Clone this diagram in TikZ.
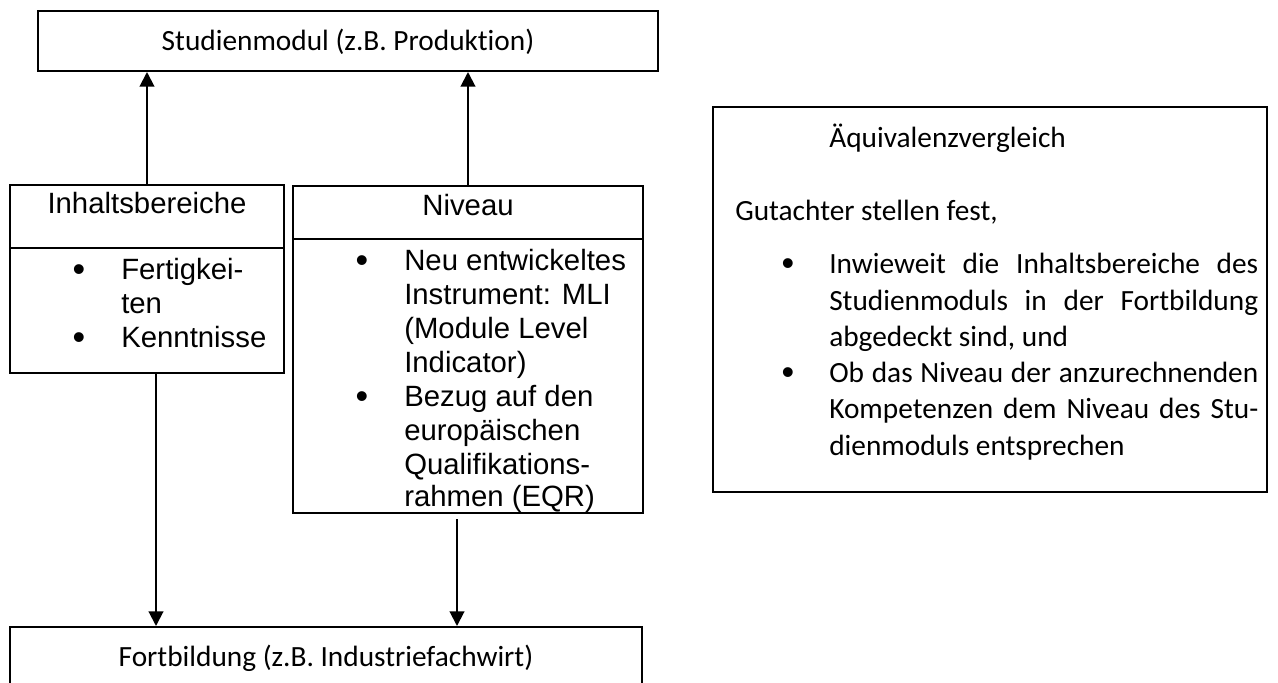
\documentclass[tikz,border=0pt]{standalone}
\usepackage{fontspec}
\setmainfont{Carlito}[Ligatures=CommonOff]
\newfontfamily\arialf{Liberation Sans}[Ligatures=CommonOff]
\usetikzlibrary{arrows.meta,fit}
\begin{document}
\begin{tikzpicture}[x=0.75pt,y=-0.75pt,
  box/.style={draw=black, line width=1.5pt, inner sep=0pt, rectangle},
  arr/.style={line width=1.5pt, -{Triangle[width=11pt,length=11pt]}},
  cal/.style={font=\fontsize{22}{27.5}\selectfont, inner sep=0pt},
  ari/.style={font=\arialf\fontsize{22}{25.5}\selectfont, inner sep=0pt},
  blt/.style={font=\arialf\fontsize{27}{27}\selectfont, inner sep=0pt, anchor=base, yshift=-1.5pt},
]
\clip (0,0) rectangle (1278,682);
\fill[white] (0,0) rectangle (1278,682);

% top box
\node[box, fit={(38,11) (658,71)}] (S) {};
\node[cal, anchor=base] (St) at (348,50) {Studienmodul (z.B. Produktion)};

% Inhaltsbereiche
\node[box, fit={(10,185) (284,373)}] (I) {};
\draw[line width=1.5pt] (10,248) -- (284,248);
\node[ari, anchor=base] (It) at (147,213) {Inhaltsbereiche};
\node[blt] (Ib1) at (79,279) {•};
\node[blt] (Ib2) at (79,347) {•};
\node[ari, anchor=base west] (I1) at (121,279) {Fertigkei-};
\node[ari, anchor=base west] (I2) at (121,313) {ten};
\node[ari, anchor=base west] (I3) at (121,347) {Kenntnisse};

% Niveau
\node[box, fit={(293,186) (643,513)}] (N) {};
\draw[line width=1.5pt] (293,239) -- (643,239);
\node[ari, anchor=base] (Nt) at (468,215) {Niveau};
\node[blt] (Nb1) at (362,270) {•};
\node[blt] (Nb2) at (362,406) {•};
\node[ari, anchor=base west] (N1) at (404,270) {Neu entwickeltes};
\node[ari, anchor=base west] (N2) at (404,304) {Instrument: MLI};
\node[ari, anchor=base west] (N3) at (404,338) {(Module Level};
\node[ari, anchor=base west] (N4) at (404,372) {Indicator)};
\node[ari, anchor=base west] (N5) at (404,406) {Bezug auf den};
\node[ari, anchor=base west] (N6) at (404,440) {europäischen};
\node[ari, anchor=base west] (N7) at (404,474) {Qualifikations-};
\node[ari, anchor=base west] (N8) at (404,506) {rahmen (EQR)};

% bottom box
\node[box, fit={(10,627) (642,720)}] (F) {};
\node[cal, anchor=base] (Ft) at (326,666) {Fortbildung (z.B. Industriefachwirt)};

% right box
\node[box, fit={(713,107) (1267,492)}] (R) {};
\node[cal, anchor=base west] (Rt) at (829,147) {Äquivalenzvergleich};
\node[cal, anchor=base west] (Rg) at (735,220) {Gutachter stellen fest,};
\node[blt] (Rb1) at (788,273) {•};
\node[blt] (Rb2) at (788,382) {•};
\node[cal, anchor=base west] (R1) at (829,273) {\makebox[321.75pt][s]{Inwieweit die Inhaltsbereiche des}};
\node[cal, anchor=base west] (R2) at (829,310) {\makebox[321.75pt][s]{Studienmoduls in der Fortbildung}};
\node[cal, anchor=base west] (R3) at (829,346) {abgedeckt sind, und};
\node[cal, anchor=base west] (R4) at (829,382) {\makebox[321.75pt][s]{Ob das Niveau der anzurechnenden}};
\node[cal, anchor=base west] (R5) at (829,418) {\makebox[321.75pt][s]{Kompetenzen dem Niveau des Stu-}};
\node[cal, anchor=base west] (R6) at (829,455) {dienmoduls entsprechen};

% connectors
\draw[arr] (I.north) -- (I.north |- S.south);
\draw[arr] (N.north) -- (N.north |- S.south);
\draw[arr] ([xshift=6.75pt]I.south) -- ([xshift=6.75pt]I.south |- F.north);
\draw[arr] ([xshift=-8.25pt,yshift=-4pt]N.south) -- ([xshift=-8.25pt]N.south |- F.north);
\end{tikzpicture}
\end{document}
